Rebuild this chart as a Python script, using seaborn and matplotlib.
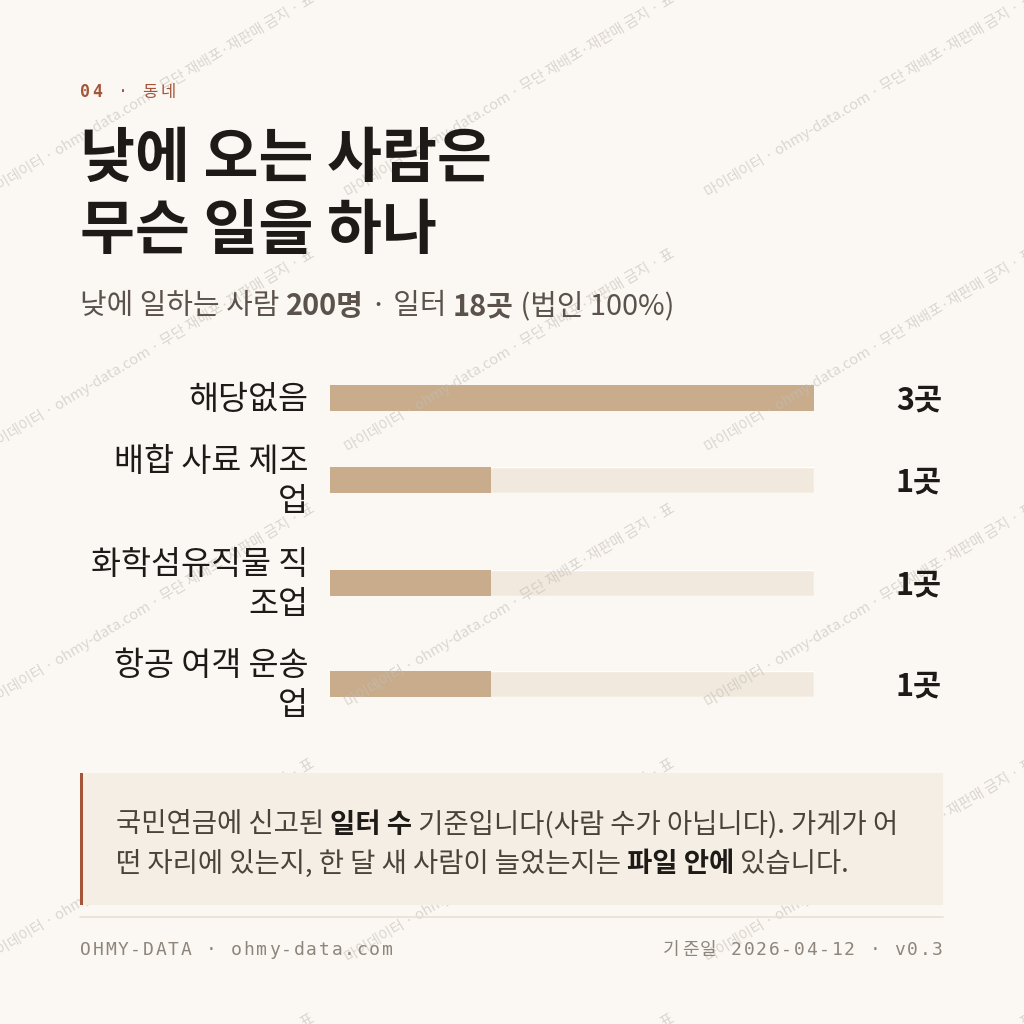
import matplotlib
matplotlib.use("Agg")
import matplotlib.pyplot as plt
import seaborn as sns

# data
categories = ["해당없음", "배합 사료 제조\n업", "화학섬유직물 직\n조업", "항공 여객 운송\n업"]
counts = [3, 1, 1, 1]
value_labels = ["3곳", "1곳", "1곳", "1곳"]
max_count = 3

kicker = [("04", "bold"), (" · 동네", "normal")]
title = "낮에 오는 사람은\n무슨 일을 하나"
subtitle = [("낮에 일하는 사람 ", "normal"), ("200명", "bold"), (" · 일터 ", "normal"),
            ("18곳", "bold"), (" (법인 100%)", "normal")]
note_lines = [
    [("국민연금에 신고된 ", "normal"), ("일터 수", "bold"), (" 기준입니다(사람 수가 아닙니다). 가게가 어", "normal")],
    [("떤 자리에 있는지, 한 달 새 사람이 늘었는지는 ", "normal"), ("파일 안에", "bold"), (" 있습니다.", "normal")],
]
footer_left = "OHMY-DATA · ohmy-data.com"
footer_right = "기준일 2026-04-12 · v0.3"
watermark = "마이데이터 · ohmy-data.com · 무단 재배포·재판매 금지 · 표"

BG = "#FBF8F3"
BAR = "#C8AC8C"
TRACK = "#F1E9DD"
INK = "#1E1A17"
SUB = "#5A524B"
ACCENT = "#A5553A"
MUTED = "#8E857B"

sns.set_theme(style="white")
KR = ["Noto Sans CJK KR", "DejaVu Sans"]
MONO = ["DejaVu Sans Mono", "Noto Sans CJK KR"]
plt.rcParams["font.family"] = KR

W = H = 1024
fig = plt.figure(figsize=(W / 100, H / 100), dpi=100, facecolor=BG)
renderer = fig.canvas.get_renderer()


def fx(x):
    return x / W


def fy(y):
    return 1 - y / H


# watermark
for row in range(-2, 7):
    for col in range(-1, 4):
        x0 = col * 360 - 10
        y0 = row * 255 + 200
        fig.text(fx(x0), fy(y0), watermark, rotation=31, fontsize=10.5,
                 color="#C4BEB6", alpha=0.6, family=KR, ha="left", va="bottom",
                 rotation_mode="anchor", zorder=0)


def runs(x, y, pieces, size, color, family, bold_color=None):
    texts = []
    for s, w in pieces:
        c = bold_color if (w == "bold" and bold_color) else color
        t = fig.text(fx(x), fy(y), s, fontsize=size, fontweight=w, color=c,
                     family=family, va="center_baseline", ha="left")
        texts.append(t)
    cx = x
    for t in texts:
        t.set_x(fx(cx))
        cx += t.get_window_extent(renderer).width


def space_width(size, family):
    probe = fig.text(0, 0, "0", fontsize=size, family=family)
    wd = probe.get_window_extent(renderer).width
    probe.remove()
    return wd


def tracked(x, y, pieces, size, color, family, track, ha="left"):
    # letter-spaced text, one glyph at a time
    chars = []
    sp = space_width(size, family)
    for s, w in pieces:
        for ch in s:
            t = fig.text(fx(x), fy(y), ch, fontsize=size, fontweight=w, color=color,
                         family=family, va="center_baseline", ha="left")
            wd = sp if ch == " " else t.get_window_extent(renderer).width
            chars.append((t, wd))
    total = sum(wd + track for _, wd in chars) - track
    cx = x if ha == "left" else x - total
    for t, wd in chars:
        t.set_x(fx(cx))
        cx += wd + track


tracked(80, 90, kicker, 12, ACCENT, MONO, 2.5)
fig.text(fx(80), fy(196), title, fontsize=43, fontweight="bold", color=INK,
         family=KR, va="center", ha="left", linespacing=1.25)
runs(80, 303, subtitle, 20.8, SUB, KR)

# bars
rows_y = [398, 480, 583, 684]
bar_h = 26
x_left, x_right = 330, 814
for cat, val, lab, yc in zip(categories, counts, value_labels, rows_y):
    ax = fig.add_axes([fx(x_left), fy(yc + bar_h / 2), (x_right - x_left) / W, bar_h / H])
    sns.barplot(x=[val], y=[cat], ax=ax, color=BAR, orient="h", width=1,
                saturation=1, edgecolor="none")
    ax.set_xlim(0, max_count)
    ax.set_ylim(0.5, -0.5)
    ax.axis("off")
    ax.add_patch(plt.Rectangle((0, 0), 1, 1, transform=ax.transAxes,
                               facecolor=TRACK, zorder=-1))
    fig.text(fx(308), fy(yc + 2), cat, fontsize=23.5, color=INK, family=KR,
             ha="right", va="center", linespacing=1.32, multialignment="right")
    fig.text(fx(942), fy(yc + 3), lab, fontsize=22, fontweight="bold", color=INK,
             family=KR, ha="right", va="center")

# note box
fig.patches.append(plt.Rectangle((fx(80), fy(905)), (943 - 80) / W, (905 - 773) / H,
                                 transform=fig.transFigure, facecolor="#F5EEE4",
                                 edgecolor="none", zorder=1))
fig.patches.append(plt.Rectangle((fx(80), fy(905)), 3 / W, (905 - 773) / H,
                                 transform=fig.transFigure, facecolor=ACCENT,
                                 edgecolor="none", zorder=2))
runs(116, 822, note_lines[0], 19.8, "#4A423B", KR, bold_color=INK)
runs(116, 861, note_lines[1], 19.8, "#4A423B", KR, bold_color=INK)

# footer
fig.add_artist(plt.Line2D([fx(80), fx(943)], [fy(917), fy(917)], color="#E8E0D4", lw=1.2))
tracked(80, 948, [(footer_left, "normal")], 13, MUTED, MONO, 1.7)
tracked(943, 948, [(footer_right, "normal")], 13, MUTED, MONO, 1.7, ha="right")

fig.savefig("out.png", dpi=100, facecolor=BG)
